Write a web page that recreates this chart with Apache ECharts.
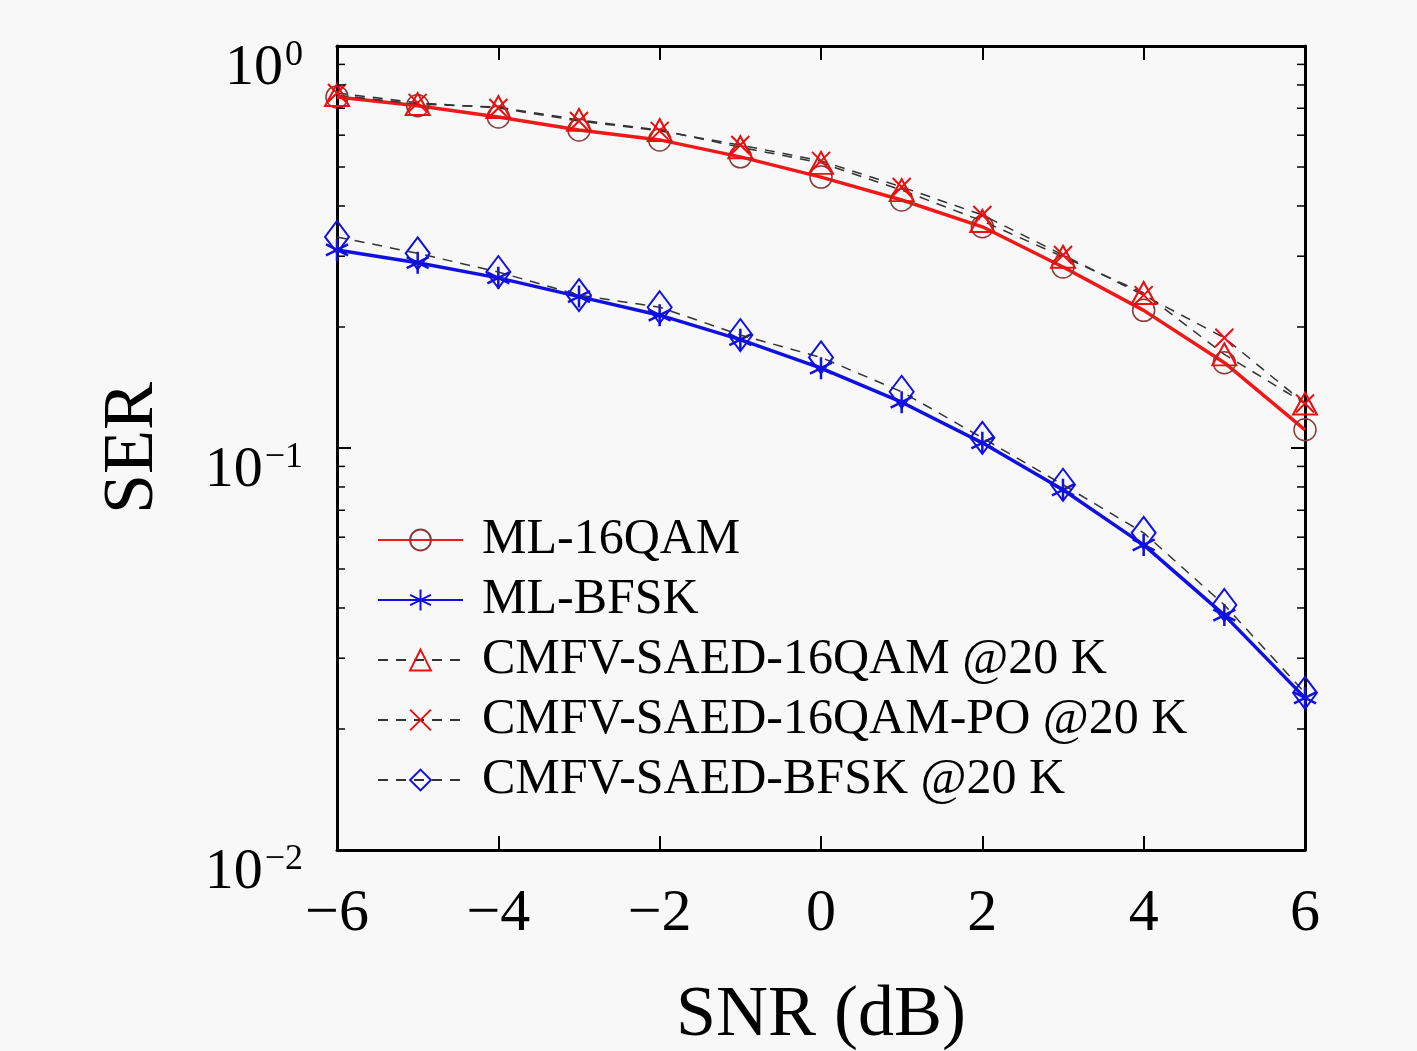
<!DOCTYPE html>
<html>
<head>
<meta charset="utf-8">
<script src="https://cdn.jsdelivr.net/npm/echarts@6/dist/echarts.min.js"></script>
<style>
html,body{margin:0;padding:0;background:#f8f8f8;}
#chart{width:1417px;height:1051px;}
</style>
</head>
<body>
<div id="chart"></div>
<script>
const snr = [-6, -5, -4, -3, -2, -1, 0, 1, 2, 3, 4, 5, 6];
const ml16qam = [0.747, 0.71, 0.666, 0.618, 0.584, 0.53, 0.472, 0.414, 0.355, 0.282, 0.22, 0.163, 0.111];
const mlBfsk = [0.311, 0.289, 0.265, 0.238, 0.214, 0.186, 0.158, 0.130, 0.103, 0.0787, 0.0574, 0.0384, 0.0239];
const cmfv16qam = [0.755, 0.717, 0.705, 0.655, 0.618, 0.56, 0.512, 0.438, 0.367, 0.299, 0.243, 0.171, 0.129];
const cmfv16qamPo = [0.764, 0.722, 0.701, 0.651, 0.615, 0.567, 0.518, 0.446, 0.38, 0.302, 0.24, 0.188, 0.129];
const cmfvBfsk = [0.335, 0.305, 0.274, 0.24, 0.224, 0.191, 0.168, 0.138, 0.106, 0.081, 0.0615, 0.0407, 0.0246];
const seriesNames = ['ML-16QAM', 'ML-BFSK', 'CMFV-SAED-16QAM @20 K', 'CMFV-SAED-16QAM-PO @20 K', 'CMFV-SAED-BFSK @20 K'];
const xTicks = [-6, -4, -2, 0, 2, 4, 6];
const yMinorTicks = [0.02, 0.03, 0.04, 0.05, 0.06, 0.07, 0.08, 0.09, 0.2, 0.3, 0.4, 0.5, 0.6, 0.7, 0.8, 0.9];

const FONT = '"Liberation Serif", "DejaVu Serif", serif';
const pairs = arr => snr.map((x, i) => [x, arr[i]]);
const asterisk = 'path://M0,-10L0,10M-8.66,-5L8.66,5M-8.66,5L8.66,-5';
const cross = 'path://M-10,-10L10,10M-10,10L10,-10';

const chart = echarts.init(document.getElementById('chart'), null, {renderer: 'canvas'});

const axisCommonX = {
  type: 'value', min: -6, max: 6, interval: 2,
  axisLine: {show: true, onZero: false, lineStyle: {color: '#000', width: 3}},
  axisTick: {show: true, inside: true, length: 14, lineStyle: {color: '#000', width: 2}},
  splitLine: {show: false}
};
const axisCommonY = {
  type: 'log', logBase: 10, min: 0.01, max: 1,
  axisLine: {show: true, onZero: false, lineStyle: {color: '#000', width: 3}},
  axisTick: {show: true, inside: true, length: 14, lineStyle: {color: '#000', width: 2}},
  splitLine: {show: false}
};

function supLabel(v) {
  const e = Math.round(Math.log10(v));
  return '{b|10}{s|' + (e === 0 ? '0' : '\u2212' + (-e)) + '}';
}

chart.setOption({
  backgroundColor: '#f8f8f8',
  animation: false,
  grid: {left: 337, top: 46, width: 968, height: 804, containLabel: false, outerBoundsMode: 'none'},
  xAxis: [
    Object.assign({}, axisCommonX, {
      position: 'bottom',
      name: 'SNR (dB)', nameLocation: 'middle', nameGap: 130,
      nameTextStyle: {fontFamily: FONT, fontSize: 72, color: '#000'},
      axisLabel: {
        fontFamily: FONT, fontSize: 60, color: '#000', margin: 34,
        formatter: v => (v < 0 ? '\u2212' + (-v) : String(v))
      }
    }),
    Object.assign({}, axisCommonX, {position: 'top', axisLabel: {show: false}})
  ],
  yAxis: [
    Object.assign({}, axisCommonY, {
      position: 'left',
      name: 'SER', nameLocation: 'middle', nameGap: 168, nameRotate: 90,
      nameTextStyle: {fontFamily: FONT, fontSize: 72, color: '#000'},
      axisLabel: {
        margin: 34, formatter: supLabel, padding: [44, 0, 0, 0],
        rich: {
          b: {fontFamily: FONT, fontSize: 58, color: '#000', verticalAlign: 'bottom', lineHeight: 60},
          s: {fontFamily: FONT, fontSize: 36, color: '#000', verticalAlign: 'top', lineHeight: 60, padding: [0, 0, 0, 2]}
        }
      }
    }),
    Object.assign({}, axisCommonY, {position: 'right', axisLabel: {show: false}})
  ],
  legend: {
    data: seriesNames,
    orient: 'vertical',
    left: 372, top: 510,
    itemWidth: 85, itemHeight: 26, itemGap: 10,
    backgroundColor: 'transparent',
    textStyle: {fontFamily: FONT, fontSize: 50, color: '#000', lineHeight: 50, padding: [0, 0, 0, 14]}
  },
  series: [
    {
      name: seriesNames[0], type: 'line', data: pairs(ml16qam),
      symbol: 'circle', symbolSize: 22,
      lineStyle: {color: '#f01818', width: 3.5},
      itemStyle: {color: 'rgba(0,0,0,0)', borderColor: '#8a3a3a', borderWidth: 1.5},
      z: 3
    },
    {
      name: seriesNames[1], type: 'line', data: pairs(mlBfsk),
      symbol: asterisk, symbolSize: 22,
      lineStyle: {color: '#1010e0', width: 3.5},
      itemStyle: {color: 'rgba(0,0,0,0)', borderColor: '#1010e0', borderWidth: 2.5},
      z: 3
    },
    {
      name: seriesNames[2], type: 'line', data: pairs(cmfv16qam),
      symbol: 'triangle', symbolSize: [24, 22],
      lineStyle: {color: '#333', width: 1.5, type: [10, 8]},
      itemStyle: {color: 'rgba(0,0,0,0)', borderColor: '#e81010', borderWidth: 2},
      z: 4
    },
    {
      name: seriesNames[3], type: 'line', data: pairs(cmfv16qamPo),
      symbol: cross, symbolSize: 18,
      lineStyle: {color: '#333', width: 1.5, type: [10, 8]},
      itemStyle: {color: 'rgba(0,0,0,0)', borderColor: '#e81010', borderWidth: 2},
      z: 4
    },
    {
      name: seriesNames[4], type: 'line', data: pairs(cmfvBfsk),
      symbol: 'diamond', symbolSize: [24, 32],
      lineStyle: {color: '#333', width: 1.5, type: [10, 8]},
      itemStyle: {color: 'rgba(0,0,0,0)', borderColor: '#1010e0', borderWidth: 2},
      z: 4
    },
    {
      name: 'minorTicks', type: 'custom', data: yMinorTicks.map(v => [v]),
      silent: true, clip: false, z: 5,
      renderItem: function (params, api) {
        const v = api.value(0);
        const l = api.coord([-6, v]);
        const r = api.coord([6, v]);
        const style = {stroke: '#000', lineWidth: 1.5};
        return {
          type: 'group',
          children: [
            {type: 'line', shape: {x1: l[0], y1: l[1], x2: l[0] + 8, y2: l[1]}, style: style},
            {type: 'line', shape: {x1: r[0], y1: r[1], x2: r[0] - 8, y2: r[1]}, style: style}
          ]
        };
      },
      encode: {y: 0}
    }
  ]
});
</script>
</body>
</html>
